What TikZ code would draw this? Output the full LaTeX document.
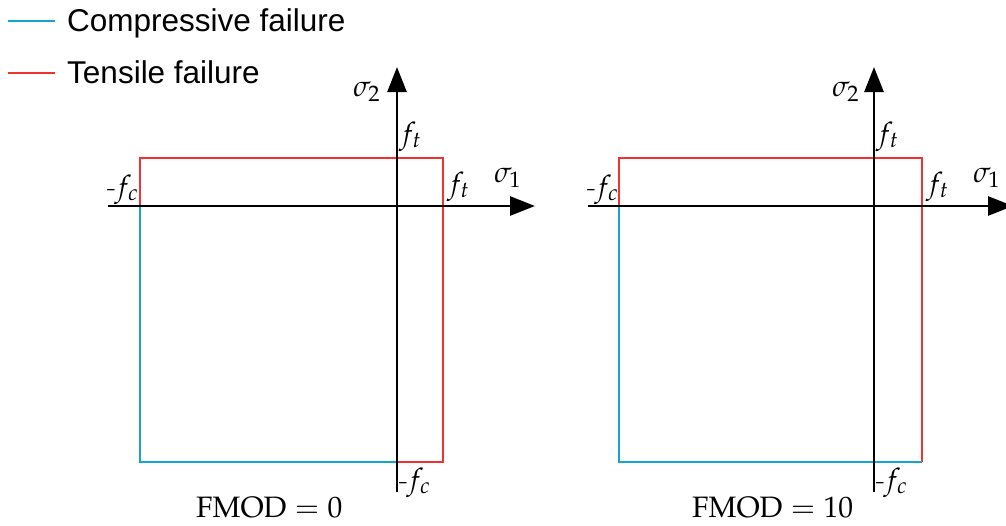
\documentclass[tikz,border=0pt]{standalone}
\usepackage{mathpazo}
\usepackage[no-math]{fontspec}
\newfontfamily\legendfont{Liberation Sans}
\usetikzlibrary{arrows.meta}
\definecolor{cblue}{RGB}{20,165,210}
\definecolor{cred}{RGB}{240,50,50}
\begin{document}
\begin{tikzpicture}[x=1pt,y=-1pt,
  axis/.style={line width=2.7pt,-{Triangle[length=25pt,width=19pt]}},
  comp/.style={cblue,line width=2.2pt},
  tens/.style={cred,line width=2.2pt},
  lbl/.style={inner sep=0pt,anchor=base west,font=\fontsize{29.5}{31}\selectfont},
  leg/.style={inner sep=0pt,anchor=base west,font=\legendfont\fontsize{31.5}{33}\selectfont}]
\useasboundingbox (0,0) rectangle (1006,525);
\clip (0,0) rectangle (1006,525);
% legend
\coordinate (lc1) at (8,21); \coordinate (lc2) at (55,21);
\coordinate (lt1) at (8,73); \coordinate (lt2) at (55,73);
\draw[comp] (lc1) -- (lc2);
\draw[tens] (lt1) -- (lt2);
\node[leg] (legc) at (67,31) {Compressive failure};
\node[leg] (legt) at (67,83) {Tensile failure};
% ---------- left diagram ----------
\coordinate (Ltl) at (140,158); \coordinate (Ltr) at (443,158);
\coordinate (Lbr) at (443,462); \coordinate (Lbl) at (140,462);
\coordinate (Lml) at (140,206); \coordinate (Lbm) at (397,462);
\draw[tens] (Lml) -- (Ltl) -- (Ltr) -- (Lbr) -- (Lbm);
\draw[comp] (Lml) -- (Lbl) -- (Lbm);
\coordinate (Lx0) at (108,206); \coordinate (Lx1) at (535,206);
\coordinate (Ly0) at (397,492); \coordinate (Ly1) at (397,67);
\draw[axis] (Lx0) -- (Lx1);
\draw[axis] (Ly0) -- (Ly1);
\node[lbl] (Ls2) at (353,96) {$\sigma_2$};
\node[lbl] (Lft1) at (399,143) {$f_t$};
\node[lbl] (Lft2) at (447,193) {$f_t$};
\node[lbl] (Ls1) at (494,182) {$\sigma_1$};
\node[lbl] (Lfc1) at (107,196) {-\kern-1.5pt$f_c$};
\node[lbl] (Lfc2) at (399,489) {-\kern-1.5pt$f_c$};
\node[lbl] (Lcap) at (196,517) {$\mathrm{FMOD}=0$};
% ---------- right diagram ----------
\coordinate (Rtl) at (619,158); \coordinate (Rtr) at (922,158);
\coordinate (Rbr) at (922,462); \coordinate (Rbl) at (619,462);
\coordinate (Rml) at (619,206);
\draw[tens] (Rml) -- (Rtl) -- (Rtr) -- (Rbr);
\draw[comp] (Rml) -- (Rbl) -- (Rbr);
\coordinate (Rx0) at (588,206); \coordinate (Rx1) at (1013,206);
\coordinate (Ry0) at (874,492); \coordinate (Ry1) at (874,67);
\draw[axis] (Rx0) -- (Rx1);
\draw[axis] (Ry0) -- (Ry1);
\node[lbl] (Rs2) at (832,96) {$\sigma_2$};
\node[lbl] (Rft1) at (876,143) {$f_t$};
\node[lbl] (Rft2) at (926,193) {$f_t$};
\node[lbl] (Rs1) at (973,182) {$\sigma_1$};
\node[lbl] (Rfc1) at (587,196) {-\kern-1.5pt$f_c$};
\node[lbl] (Rfc2) at (876,489) {-\kern-1.5pt$f_c$};
\node[lbl] (Rcap) at (692,517) {$\mathrm{FMOD}=10$};
\end{tikzpicture}
\end{document}
